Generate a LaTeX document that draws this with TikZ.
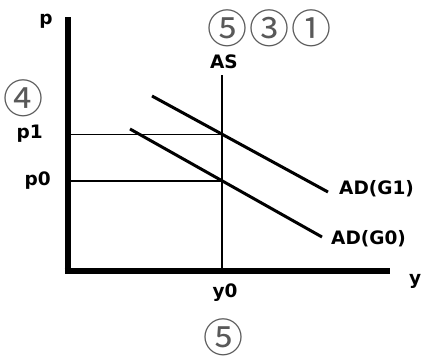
\documentclass[tikz,border=0pt]{standalone}
\usepackage{fontspec}
\setmainfont{DejaVu Sans}
\newfontfamily\circfont{Noto Sans CJK SC}
\tikzset{
  every picture/.style={line join=round, line cap=butt},
  axisline/.style={line width=6pt},
  curveline/.style={line width=3pt},
  guideline/.style={line width=1.9pt},
  lbl/.style={font=\fontsize{18.5}{18.5}\selectfont\bfseries, inner sep=0pt},
  circnum/.style={font=\circfont\fontsize{40}{40}\selectfont, text=black!65, inner sep=0pt},
}
\begin{document}
\begin{tikzpicture}[x=1pt,y=-1pt]
\useasboundingbox (0,0) rectangle (421,358);
% axes
\coordinate (origin) at (67.5,271);
\coordinate (ptop) at (67.5,17);
\coordinate (yend) at (390,271);
\draw[axisline] (64.5,271)--(yend);
\draw[axisline] (origin)--(ptop);
% supply and demand
\coordinate (asbot) at (222,271);
\coordinate (astop) at (222,75);
\draw[line width=2.4pt] (asbot)--(astop);
\coordinate (g1a) at (152,96);
\coordinate (g1b) at (328,192);
\coordinate (g0a) at (130,129);
\coordinate (g0b) at (322,237);
\draw[curveline] (g1a)--(g1b);
\draw[curveline] (g0a)--(g0b);
% price levels
\coordinate (e1) at (222,134.5);
\coordinate (e0) at (222,181);
\draw[guideline] (67.5,134.5)--(e1);
\draw[guideline] (67.5,181)--(e0);
% labels
\node[lbl] (plab) at (46,21) {p};
\node[lbl,anchor=east] (p1lab) at (43,134) {p1};
\node[lbl,anchor=east] (p0lab) at (51,181) {p0};
\node[lbl] (aslab) at (224,62) {AS};
\node[lbl,anchor=west] (g1lab) at (339,189) {AD(G1)};
\node[lbl,anchor=west] (g0lab) at (331,239) {AD(G0)};
\node[lbl] (y0lab) at (225,293) {y0};
\node[lbl,anchor=west] (ylab) at (409,281) {y};
% circled numbers
\node[circnum] (c5a) at (227,28) {⑤};
\node[circnum] (c3) at (269,28) {③};
\node[circnum] (c1) at (311,28) {①};
\node[circnum] (c4) at (24,98) {④};
\node[circnum] (c5b) at (223,337) {⑤};
\end{tikzpicture}
\end{document}
